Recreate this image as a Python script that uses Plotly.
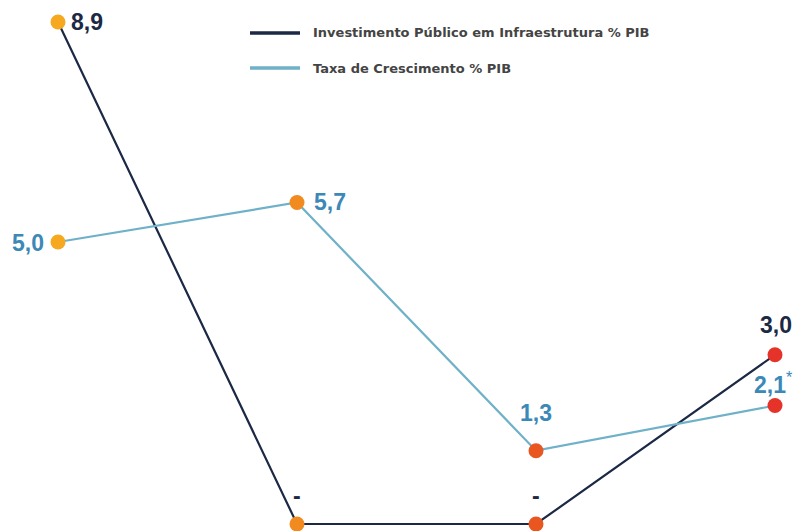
import plotly.graph_objects as go

# Data
periods = ["P1", "P2", "P3", "P4"]
investimento = [8.9, 0.0, 0.0, 3.0]
crescimento = [5.0, 5.7, 1.3, 2.1]
crescimento_suffix = ["", "", "", "*"]
marker_colors = ["#F6A81E", "#F18A1F", "#E9561F", "#E53329"]

NAVY = "#1B2944"
BLUE = "#6FB1C8"
LABEL_BLUE = "#3C88B6"
LEGEND_TEXT = "#444444"
LABEL_FONT = "Liberation Sans, Arial, sans-serif"
LEGEND_FONT = "DejaVu Sans, Arial, sans-serif"

x = list(range(len(periods)))


def fmt(v):
    return "-" if v == 0 else f"{v:.1f}".replace(".", ",")


fig = go.Figure()

fig.add_trace(go.Scatter(
    x=x, y=investimento, mode="lines",
    line=dict(color=NAVY, width=2.2), hoverinfo="skip", showlegend=False,
))
fig.add_trace(go.Scatter(
    x=x, y=crescimento, mode="lines",
    line=dict(color=BLUE, width=2.2), hoverinfo="skip", showlegend=False,
))
fig.add_trace(go.Scatter(
    x=x + x, y=investimento + crescimento, mode="markers",
    marker=dict(size=15, color=marker_colors + marker_colors, line=dict(width=0)),
    hoverinfo="skip", showlegend=False,
))

label_font = dict(family=LABEL_FONT, size=23)

# value labels: investimento (navy)
inv_pos = [
    dict(xanchor="left", xshift=11, yshift=0),
    dict(xanchor="center", xshift=0, yshift=28),
    dict(xanchor="center", xshift=0, yshift=28),
    dict(xanchor="center", xshift=1, yshift=30),
]
for xi, v, p in zip(x, investimento, inv_pos):
    fig.add_annotation(
        x=xi, y=v, text=f"<b>{fmt(v)}</b>", showarrow=False,
        font=dict(color=NAVY, **label_font), yanchor="middle", **p,
    )

# value labels: crescimento (blue)
cre_pos = [
    dict(xanchor="right", xshift=-12, yshift=-1),
    dict(xanchor="left", xshift=15, yshift=1),
    dict(xanchor="center", xshift=0, yshift=38),
    dict(xanchor="right", xshift=20, yshift=23),
]
for xi, v, sfx, p in zip(x, crescimento, crescimento_suffix, cre_pos):
    txt = f"<b>{fmt(v)}</b>"
    if sfx:
        txt += f"<sup>{sfx}</sup>"
    fig.add_annotation(
        x=xi, y=v, text=txt, showarrow=False,
        font=dict(color=LABEL_BLUE, **label_font), yanchor="middle", **p,
    )

# legend drawn in paper coordinates
W, H = 796, 531
legend_items = [
    ("Investimento Público em Infraestrutura % PIB", NAVY, 33),
    ("Taxa de Crescimento % PIB", BLUE, 68),
]
for name, color, ypx in legend_items:
    yp = 1 - ypx / H
    fig.add_shape(
        type="line", xref="paper", yref="paper",
        x0=250 / W, x1=300 / W, y0=yp, y1=yp,
        line=dict(color=color, width=3.5),
    )
    fig.add_annotation(
        xref="paper", yref="paper", x=311 / W, y=yp, text=f"<b>{name}</b>",
        showarrow=False, xanchor="left", yanchor="middle",
        font=dict(family=LEGEND_FONT, size=13, color=LEGEND_TEXT),
    )

fig.update_layout(
    width=W, height=H,
    margin=dict(l=0, r=0, t=0, b=0),
    paper_bgcolor="white", plot_bgcolor="white",
    xaxis=dict(range=[-0.2427, 3.0879], visible=False, fixedrange=True),
    yaxis=dict(range=[-0.124, 9.29], visible=False, fixedrange=True),
    showlegend=False,
)

fig.write_html("out.html")
